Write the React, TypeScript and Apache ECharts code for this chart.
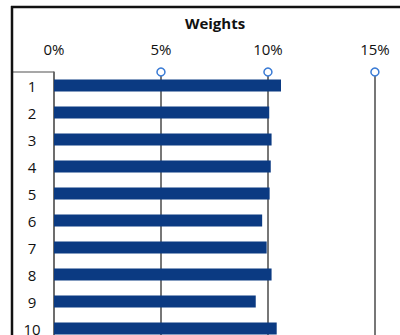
import React, { useEffect, useRef } from "react";
import * as echarts from "echarts";

// Portfolio weights per position (percent)
const positions = ["1", "2", "3", "4", "5", "6", "7", "8", "9", "10"];
const weights = [10.61, 10.06, 10.17, 10.13, 10.08, 9.73, 9.94, 10.17, 9.43, 10.41];
// Handle markers sitting on the top axis
const handleTicks = [5, 10, 15];

const FONT = "'Open Sans', 'Noto Sans', sans-serif";

export default function App() {
  const ref = useRef<HTMLDivElement>(null);

  useEffect(() => {
    if (!ref.current) return;
    const chart = echarts.init(ref.current, null, { renderer: "svg" });
    chart.setOption({
      animation: false,
      backgroundColor: "#ffffff",
      title: {
        text: "Weights",
        left: 210,
        top: 10,
        textAlign: "center",
        textStyle: { fontFamily: FONT, fontSize: 15, fontWeight: "bold", color: "#111" },
      },
      // The plot runs past the right and bottom edges of the canvas
      grid: { left: 54, top: 72, width: 353, height: 270, outerBoundsMode: "none" },
      xAxis: {
        type: "value",
        position: "top",
        min: 0,
        max: 16.5,
        interval: 5,
        axisLine: { show: true, lineStyle: { color: "#8a8a8a", width: 1.5 } },
        axisTick: { show: false },
        axisLabel: {
          formatter: "{value}%",
          fontFamily: FONT,
          fontSize: 15,
          color: "#111",
          margin: 16,
          showMaxLabel: false,
        },
        splitLine: { show: true, lineStyle: { color: "#4a4a4a", width: 1.5 } },
      },
      yAxis: [
        {
          type: "category",
          data: positions,
          inverse: true,
          axisLine: { show: true, lineStyle: { color: "#6a6a6a", width: 1.5 } },
          axisTick: { show: false },
          axisLabel: {
            fontFamily: FONT,
            fontSize: 15,
            color: "#111",
            align: "center",
            margin: 22,
          },
        },
        { type: "value", min: 0, max: 1, show: false },
      ],
      series: [
        {
          type: "bar",
          data: weights,
          barWidth: 12,
          itemStyle: { color: "#0b3a82" },
        },
        {
          type: "scatter",
          yAxisIndex: 1,
          data: handleTicks.map((v) => [v, 1]),
          symbol: "circle",
          symbolSize: 8,
          clip: false,
          itemStyle: { color: "#ffffff", borderColor: "#3a7bd5", borderWidth: 1.5, opacity: 1 },
          z: 5,
        },
      ],
      graphic: [
        { type: "line", shape: { x1: 12, y1: 72, x2: 54, y2: 72 }, style: { stroke: "#8a8a8a", lineWidth: 1.5 } },
        { type: "line", shape: { x1: 12, y1: 6, x2: 12, y2: 335 }, style: { stroke: "#111", lineWidth: 2.5 } },
        { type: "line", shape: { x1: 11, y1: 7, x2: 400, y2: 7 }, style: { stroke: "#111", lineWidth: 2.5 } },
      ],
    });
    return () => chart.dispose();
  }, []);

  return (
    <div
      ref={ref}
      style={{ position: "fixed", left: 0, top: 0, width: 400, height: 335 }}
    />
  );
}
